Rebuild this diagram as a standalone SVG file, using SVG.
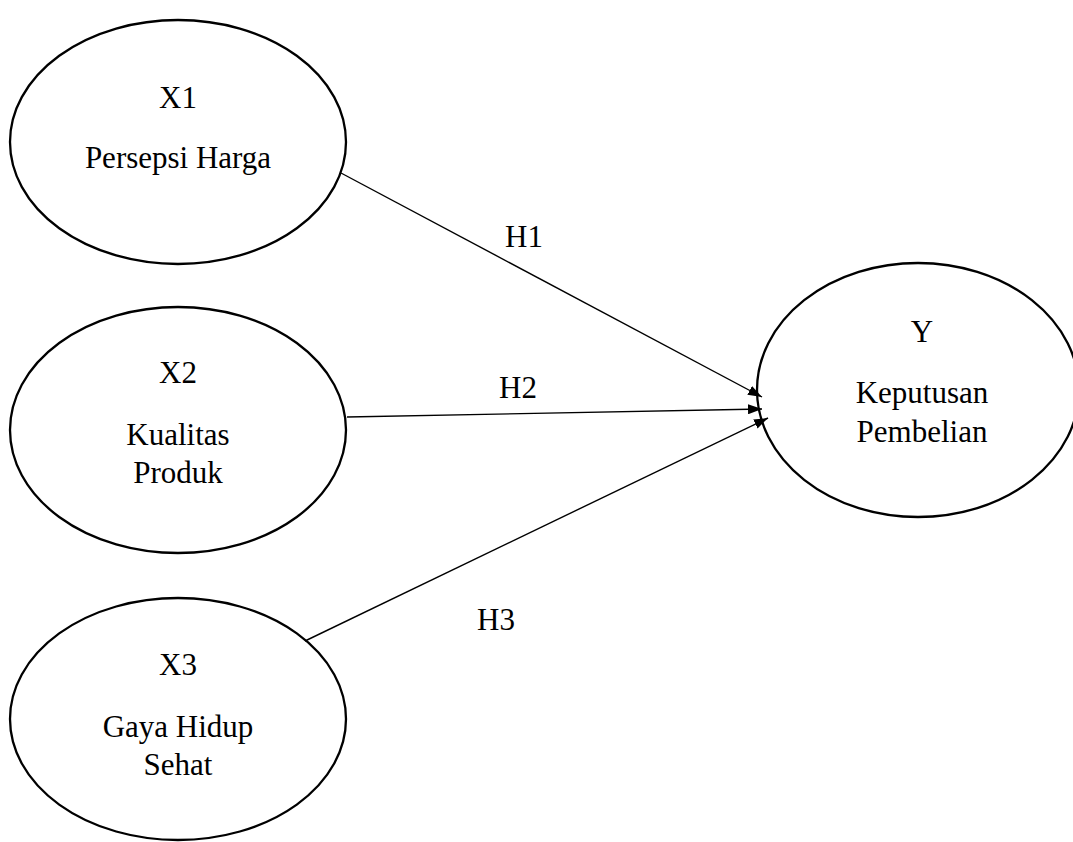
<svg xmlns="http://www.w3.org/2000/svg" width="1073" height="842" viewBox="0 0 1073 842">
<style>
.node ellipse{fill:#fff;stroke:#000;stroke-width:2.3}
text{font-family:"Liberation Serif","Times New Roman",serif;font-size:31px;fill:#000;text-anchor:middle}
.conn line{stroke:#000;stroke-width:1.4}
</style>
<defs>
<marker id="arr" viewBox="0 0 14 10" refX="14" refY="5" markerWidth="14" markerHeight="10" markerUnits="userSpaceOnUse" orient="auto">
<path d="M0,0 L14,5 L0,10 Z" fill="#000"/>
</marker>
</defs>
<rect width="1073" height="842" fill="#fff"/>
<g id="x1" class="node">
<ellipse cx="178" cy="142" rx="168" ry="122"/>
<text x="178" y="108">X1</text>
<text x="178" y="168">Persepsi Harga</text>
</g>
<g id="x2" class="node">
<ellipse cx="178" cy="430" rx="168" ry="123"/>
<text x="178" y="383">X2</text>
<text x="178" y="445">Kualitas</text>
<text x="178" y="483">Produk</text>
</g>
<g id="x3" class="node">
<ellipse cx="178" cy="719" rx="168" ry="121"/>
<text x="178" y="675">X3</text>
<text x="178" y="737">Gaya Hidup</text>
<text x="178" y="775">Sehat</text>
</g>
<g id="y" class="node">
<ellipse cx="918" cy="390" rx="161" ry="127"/>
<text x="922" y="342">Y</text>
<text x="922" y="403">Keputusan</text>
<text x="922" y="442">Pembelian</text>
</g>
<g id="connectors" class="conn">
<line x1="341" y1="173" x2="762" y2="397" marker-end="url(#arr)"/>
<line x1="347" y1="417" x2="762" y2="409" marker-end="url(#arr)"/>
<line x1="305" y1="641" x2="768" y2="418" marker-end="url(#arr)"/>
</g>
<g id="labels">
<text x="524" y="247">H1</text>
<text x="518" y="398">H2</text>
<text x="496" y="630">H3</text>
</g>
</svg>
